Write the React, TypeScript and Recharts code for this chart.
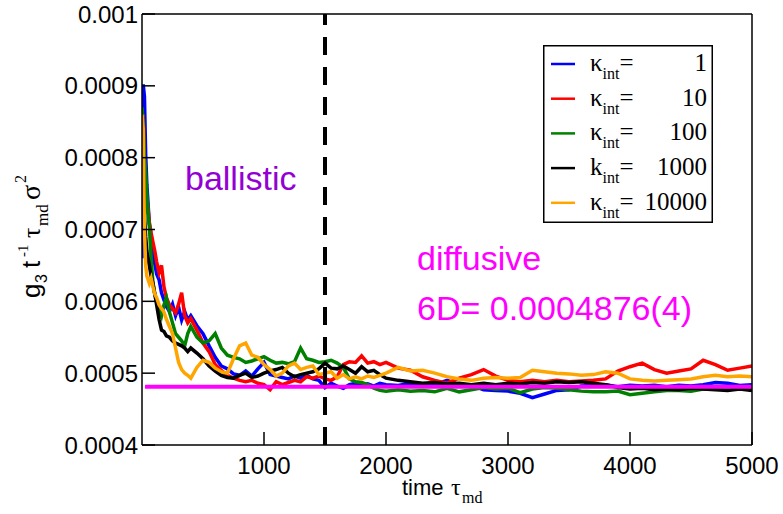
import React from 'react';
import { LineChart, Line, XAxis, YAxis, ReferenceLine, Legend, Customized } from 'recharts';

const SANS = '"Liberation Sans", Arial, Helvetica, sans-serif';
const SERIF = '"Liberation Serif", "Times New Roman", serif';

const TIME = [
  0, 10, 20, 30, 40, 50, 60, 75, 90, 105, 120, 140, 160, 180, 200, 225, 250, 275, 300, 325, 350, 375, 400,
  450, 500, 550, 600, 650, 700, 750, 800, 850, 900, 950, 1000, 1050, 1100, 1150, 1200, 1250, 1300, 1350, 1400,
  1450, 1500, 1550, 1600, 1650, 1700, 1750, 1800, 1850, 1900, 1950, 2000,
  2100, 2200, 2300, 2400, 2500, 2600, 2700, 2800, 2900, 3000, 3100, 3200, 3300, 3400, 3500, 3600, 3700, 3800,
  3900, 4000, 4100, 4200, 4300, 4400, 4500, 4600, 4700, 4800, 4900, 5000,
];

const KAPPA_1 = [
  6.6e-4, 9.02e-4, 8.85e-4, 8.05e-4, 7.62e-4, 7.35e-4, 7.08e-4, 6.92e-4, 6.68e-4, 6.52e-4, 6.38e-4, 6.3e-4, 6.12e-4, 6.02e-4, 5.93e-4, 5.86e-4, 5.96e-4, 5.8e-4, 5.92e-4, 5.74e-4, 5.86e-4, 5.74e-4, 5.8e-4,
  5.66e-4, 5.55e-4, 5.38e-4, 5.22e-4, 5.1e-4, 5.06e-4, 4.99e-4, 4.97e-4, 5.03e-4, 4.96e-4, 5.06e-4, 5.15e-4, 4.98e-4, 4.96e-4, 4.94e-4, 4.92e-4, 4.96e-4, 4.93e-4, 4.97e-4, 4.92e-4,
  4.9e-4, 4.8e-4, 4.86e-4, 4.82e-4, 4.79e-4, 4.84e-4, 4.86e-4, 4.83e-4, 4.85e-4, 4.82e-4, 4.86e-4, 4.84e-4,
  4.83e-4, 4.86e-4, 4.82e-4, 4.84e-4, 4.9e-4, 4.84e-4, 4.83e-4, 4.77e-4, 4.76e-4, 4.75e-4, 4.72e-4, 4.66e-4, 4.71e-4, 4.76e-4, 4.77e-4, 4.82e-4, 4.83e-4, 4.84e-4,
  4.81e-4, 4.83e-4, 4.82e-4, 4.83e-4, 4.81e-4, 4.83e-4, 4.82e-4, 4.84e-4, 4.87e-4, 4.86e-4, 4.83e-4, 4.84e-4,
];

const KAPPA_10 = [
  8.4e-4, 8.6e-4, 7.95e-4, 7.6e-4, 7.42e-4, 7.28e-4, 7.1e-4, 6.95e-4, 6.82e-4, 6.7e-4, 6.55e-4, 6.4e-4, 6.5e-4, 6.2e-4, 6.05e-4, 5.95e-4, 5.9e-4, 5.84e-4, 5.96e-4, 6.12e-4, 5.8e-4, 5.7e-4, 5.76e-4,
  5.6e-4, 5.42e-4, 5.3e-4, 5.12e-4, 5.04e-4, 4.97e-4, 4.93e-4, 4.9e-4, 4.88e-4, 4.9e-4, 4.86e-4, 4.84e-4, 4.77e-4, 4.88e-4, 4.84e-4, 4.87e-4, 4.9e-4, 4.88e-4, 4.95e-4, 4.93e-4,
  4.96e-4, 4.92e-4, 4.9e-4, 4.95e-4, 5.12e-4, 5.16e-4, 5.15e-4, 5.24e-4, 5.14e-4, 5.16e-4, 5.12e-4, 5.15e-4,
  5.07e-4, 5.04e-4, 4.95e-4, 4.9e-4, 4.86e-4, 4.93e-4, 4.98e-4, 5.05e-4, 4.96e-4, 4.9e-4, 4.88e-4, 4.9e-4, 4.88e-4, 4.9e-4, 4.88e-4, 4.89e-4, 4.9e-4, 4.92e-4,
  5.03e-4, 5.09e-4, 5.14e-4, 5.05e-4, 5.0e-4, 5.03e-4, 5.06e-4, 5.18e-4, 5.12e-4, 5.04e-4, 5.07e-4, 5.1e-4,
];

const KAPPA_100 = [
  8.7e-4, 8.5e-4, 8.0e-4, 7.8e-4, 7.5e-4, 7.2e-4, 7.05e-4, 6.6e-4, 6.25e-4, 6.1e-4, 6.0e-4, 5.9e-4, 5.8e-4, 5.95e-4, 6.05e-4, 5.85e-4, 5.7e-4, 5.55e-4, 5.5e-4, 5.45e-4, 5.38e-4, 5.55e-4, 5.65e-4,
  5.5e-4, 5.42e-4, 5.45e-4, 5.55e-4, 5.35e-4, 5.25e-4, 5.22e-4, 5.2e-4, 5.15e-4, 5.17e-4, 5.2e-4, 5.23e-4, 5.18e-4, 5.14e-4, 5.15e-4, 5.13e-4, 5.16e-4, 5.35e-4, 5.2e-4, 5.18e-4,
  5.15e-4, 5.16e-4, 5.18e-4, 5.14e-4, 5.08e-4, 4.92e-4, 4.88e-4, 4.87e-4, 4.84e-4, 4.79e-4, 4.76e-4, 4.75e-4,
  4.77e-4, 4.75e-4, 4.76e-4, 4.74e-4, 4.79e-4, 4.74e-4, 4.77e-4, 4.8e-4, 4.78e-4, 4.79e-4, 4.73e-4, 4.78e-4, 4.8e-4, 4.79e-4, 4.77e-4, 4.75e-4, 4.74e-4, 4.74e-4,
  4.75e-4, 4.7e-4, 4.72e-4, 4.74e-4, 4.76e-4, 4.76e-4, 4.75e-4, 4.78e-4, 4.79e-4, 4.78e-4, 4.79e-4, 4.77e-4,
];

const KAPPA_1000 = [
  8.2e-4, 7.9e-4, 7.2e-4, 6.9e-4, 6.7e-4, 6.6e-4, 6.5e-4, 6.35e-4, 6.25e-4, 6.1e-4, 5.95e-4, 5.75e-4, 5.6e-4, 5.58e-4, 5.52e-4, 5.5e-4, 5.45e-4, 5.42e-4, 5.4e-4, 5.38e-4, 5.35e-4, 5.3e-4, 5.35e-4,
  5.28e-4, 5.2e-4, 5.1e-4, 5.03e-4, 4.97e-4, 4.94e-4, 4.93e-4, 4.97e-4, 5.0e-4, 4.94e-4, 4.96e-4, 5.0e-4, 5.03e-4, 5.05e-4, 5.08e-4, 5.0e-4, 4.95e-4, 4.98e-4, 5.0e-4, 5.02e-4,
  5.06e-4, 5.14e-4, 5.07e-4, 5.06e-4, 5.1e-4, 5.05e-4, 5.0e-4, 5.09e-4, 5.02e-4, 5.04e-4, 4.98e-4, 4.93e-4,
  4.9e-4, 4.88e-4, 4.86e-4, 4.87e-4, 4.85e-4, 4.86e-4, 4.84e-4, 4.86e-4, 4.84e-4, 4.86e-4, 4.85e-4, 4.87e-4, 4.86e-4, 4.88e-4, 4.87e-4, 4.88e-4, 4.86e-4, 4.84e-4,
  4.8e-4, 4.78e-4, 4.79e-4, 4.77e-4, 4.78e-4, 4.77e-4, 4.79e-4, 4.78e-4, 4.77e-4, 4.76e-4, 4.78e-4, 4.76e-4,
];

const KAPPA_10000 = [
  8.6e-4, 8.4e-4, 7.0e-4, 6.5e-4, 6.35e-4, 6.3e-4, 6.25e-4, 6.32e-4, 6.2e-4, 6.1e-4, 6.05e-4, 5.95e-4, 5.9e-4, 5.85e-4, 5.75e-4, 5.65e-4, 5.55e-4, 5.35e-4, 5.15e-4, 5.05e-4, 5.0e-4, 4.97e-4, 4.93e-4,
  5.08e-4, 5.18e-4, 5.15e-4, 5.07e-4, 5.02e-4, 5.0e-4, 5.2e-4, 5.38e-4, 5.42e-4, 5.25e-4, 5.22e-4, 5.12e-4, 5.05e-4, 4.96e-4, 5.0e-4, 5.1e-4, 5.14e-4, 5.05e-4, 5.08e-4, 5.1e-4,
  4.98e-4, 5.0e-4, 5.02e-4, 4.93e-4, 4.98e-4, 4.92e-4, 4.95e-4, 4.92e-4, 4.96e-4, 4.94e-4, 4.97e-4, 5.0e-4,
  5.08e-4, 5.03e-4, 5.04e-4, 5.0e-4, 4.95e-4, 4.92e-4, 4.9e-4, 4.93e-4, 4.94e-4, 4.93e-4, 4.94e-4, 5.04e-4, 5.02e-4, 5.0e-4, 4.99e-4, 4.97e-4, 4.98e-4, 5.02e-4,
  5.0e-4, 4.92e-4, 4.9e-4, 4.89e-4, 4.9e-4, 4.91e-4, 4.92e-4, 4.95e-4, 4.97e-4, 4.95e-4, 4.96e-4, 4.95e-4,
];

const FIT_TIME = [25, 5000];
const FIT_VALUE = 4.81e-4;
const CROSSOVER_TIME = 1500;

const X_MAJOR = [1000, 2000, 3000, 4000, 5000];
const X_MINOR = [500, 1500, 2500, 3500, 4500];
const Y_MAJOR = [0.0004, 0.0005, 0.0006, 0.0007, 0.0008, 0.0009, 0.001];
const Y_MINOR = [0.00045, 0.00055, 0.00065, 0.00075, 0.00085, 0.00095];

const SERIES_KEYS = ['k1', 'k10', 'k100', 'k1000', 'k10000'];
const SERIES_COLORS = ['#0000ff', '#ff0000', '#008000', '#000000', '#ffa500'];
const LEGEND_SYMBOLS = ['κ', 'κ', 'κ', 'k', 'κ'];
const LEGEND_VALUES = ['1', '10', '100', '1000', '10000'];

const rows = TIME.map((t, i) => ({
  t,
  k1: KAPPA_1[i],
  k10: KAPPA_10[i],
  k100: KAPPA_100[i],
  k1000: KAPPA_1000[i],
  k10000: KAPPA_10000[i],
}));

const AXIS = { stroke: '#000', strokeWidth: 1.5 };

const renderLegend = () => (
  <svg width={170} height={178} style={{ display: 'block', background: '#fff' }}>
    <rect x={0.75} y={0.75} width={168.5} height={176.5} fill="#fff" stroke="#000" strokeWidth={1.5} />
    {LEGEND_VALUES.map((v, i) => {
      const cy = 19 + i * 34.7;
      return (
        <g key={i}>
          <line x1={8} x2={32} y1={cy} y2={cy} stroke={SERIES_COLORS[i]} strokeWidth={2.5} />
          <text x={47} y={cy + 7} fontFamily={SERIF} fontSize={25} fill="#000">
            {LEGEND_SYMBOLS[i]}
            <tspan fontSize={16} dy={8}>int</tspan>
            <tspan dy={-8}>=</tspan>
          </text>
          <text x={164} y={cy + 7} fontFamily={SERIF} fontSize={25} fill="#000" textAnchor="end">
            {v}
          </text>
        </g>
      );
    })}
  </svg>
);

const Annotations = () => (
  <g>
    <text x={185} y={190} fontFamily={SANS} fontSize={34} fill="#9400d3">ballistic</text>
    <text x={417} y={270} fontFamily={SANS} fontSize={34} fill="#ff00ff">diffusive</text>
    <text x={417} y={320} fontFamily={SANS} fontSize={34} fill="#ff00ff">6D= 0.0004876(4)</text>
    <text x={402} y={495} fill="#000">
      <tspan fontFamily={SANS} fontSize={22}>time</tspan>
      <tspan x={451} fontFamily={SERIF} fontSize={24}>τ</tspan>
      <tspan x={462} dy={8} fontFamily={SERIF} fontSize={16}>md</tspan>
    </text>
    <text transform="translate(40,298) rotate(-90)" fill="#000">
      <tspan x={0} y={0} fontFamily={SANS} fontSize={26}>g</tspan>
      <tspan x={15} y={7} fontFamily={SANS} fontSize={16}>3</tspan>
      <tspan x={30} y={0} fontFamily={SANS} fontSize={26}>t</tspan>
      <tspan x={41} y={-12} fontFamily={SERIF} fontSize={15}>-1</tspan>
      <tspan x={60} y={0} fontFamily={SERIF} fontSize={26}>τ</tspan>
      <tspan x={72} y={8} fontFamily={SERIF} fontSize={17}>md</tspan>
      <tspan x={98} y={0} fontFamily={SERIF} fontSize={28}>σ</tspan>
      <tspan x={115} y={-14} fontFamily={SERIF} fontSize={16}>2</tspan>
    </text>
  </g>
);

export default function App() {
  return (
    <div style={{ position: 'absolute', left: 0, top: 0, width: 783, height: 514, background: '#fff' }}>
      <LineChart width={783} height={514} data={rows} margin={{ top: 12, right: 29, bottom: 67, left: 140 }}>
        <XAxis
          xAxisId="x" dataKey="t" type="number" domain={[0, 5000]} allowDataOverflow
          ticks={X_MAJOR} interval={0} height={1} tickSize={-13} tickMargin={25}
          axisLine={AXIS} tickLine={AXIS}
          tick={{ fontSize: 24, fill: '#000', fontFamily: SANS }}
        />
        <XAxis
          xAxisId="xm" type="number" domain={[0, 5000]} allowDataOverflow
          ticks={X_MINOR} interval={0} height={1} tickSize={-6.5}
          axisLine={false} tickLine={AXIS} tick={false}
        />
        <XAxis
          xAxisId="xt" orientation="top" type="number" domain={[0, 5000]} allowDataOverflow
          ticks={X_MAJOR} interval={0} height={1} tickSize={-13}
          axisLine={AXIS} tickLine={AXIS} tick={false}
        />
        <XAxis
          xAxisId="xtm" orientation="top" type="number" domain={[0, 5000]} allowDataOverflow
          ticks={X_MINOR} interval={0} height={1} tickSize={-6.5}
          axisLine={false} tickLine={AXIS} tick={false}
        />
        <YAxis
          yAxisId="y" type="number" domain={[0.0004, 0.001]} allowDataOverflow
          ticks={Y_MAJOR} interval={0} width={1} tickSize={-13} tickMargin={17}
          axisLine={AXIS} tickLine={AXIS}
          tickFormatter={(v: number) => String(v)}
          tick={{ fontSize: 24, fill: '#000', fontFamily: SANS }}
        />
        <YAxis
          yAxisId="ym" type="number" domain={[0.0004, 0.001]} allowDataOverflow
          ticks={Y_MINOR} interval={0} width={1} tickSize={-6.5}
          axisLine={false} tickLine={AXIS} tick={false}
        />
        <YAxis
          yAxisId="yr" orientation="right" type="number" domain={[0.0004, 0.001]} allowDataOverflow
          ticks={Y_MAJOR} interval={0} width={1} tickSize={-13}
          axisLine={AXIS} tickLine={AXIS} tick={false}
        />
        <YAxis
          yAxisId="yrm" orientation="right" type="number" domain={[0.0004, 0.001]} allowDataOverflow
          ticks={Y_MINOR} interval={0} width={1} tickSize={-6.5}
          axisLine={false} tickLine={AXIS} tick={false}
        />
        {SERIES_KEYS.map((k, i) => (
          <Line
            key={k}
            xAxisId="x"
            yAxisId="y"
            type="linear"
            dataKey={k}
            stroke={SERIES_COLORS[i]}
            strokeWidth={3.5}
            strokeLinejoin="miter"
            dot={false}
            activeDot={false}
            isAnimationActive={false}
          />
        ))}
        <ReferenceLine
          xAxisId="x" yAxisId="y"
          segment={[{ x: FIT_TIME[0], y: FIT_VALUE }, { x: FIT_TIME[1], y: FIT_VALUE }]}
          stroke="#ff00ff" strokeWidth={4}
        />
        <ReferenceLine
          xAxisId="x" yAxisId="y" x={CROSSOVER_TIME}
          stroke="#000" strokeWidth={4} strokeDasharray="18 12"
        />
        <Legend
          layout="vertical" align="center" verticalAlign="middle"
          content={renderLegend}
          wrapperStyle={{ left: 543, top: 45, width: 170, height: 178 }}
        />
        <Customized component={Annotations} />
      </LineChart>
    </div>
  );
}
